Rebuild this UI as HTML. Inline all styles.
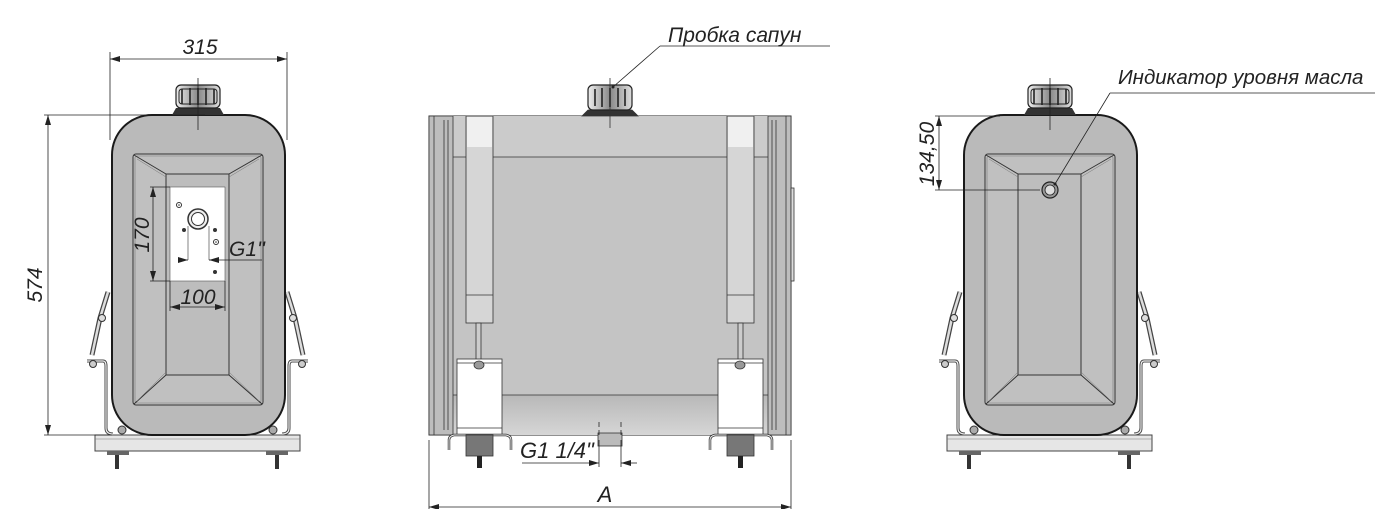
<!DOCTYPE html>
<html><head><meta charset="utf-8"><style>
html,body{margin:0;padding:0;background:#fff;}
svg{display:block;}
text{font-family:"Liberation Sans",sans-serif;font-style:italic;fill:#222;}
</style></head><body>
<svg width="1400" height="509" viewBox="0 0 1400 509" xmlns="http://www.w3.org/2000/svg">
<defs>
<marker id="ar" viewBox="0 0 10 6" refX="10" refY="3" markerWidth="10" markerHeight="6" orient="auto-start-reverse" markerUnits="userSpaceOnUse"><path d="M0,0 L10,3 L0,6 z" fill="#222"/></marker>
<linearGradient id="cap" x1="0" x2="1"><stop offset="0" stop-color="#eee"/><stop offset=".5" stop-color="#888"/><stop offset="1" stop-color="#ddd"/></linearGradient>
<linearGradient id="bot" x1="0" y1="0" x2="0" y2="1"><stop offset="0" stop-color="#b8b8b8"/><stop offset="1" stop-color="#d6d6d6"/></linearGradient>
<g id="end">
 <rect x="95" y="435" width="205" height="16" fill="#e6e6e6" stroke="#444" stroke-width="1"/>
 <line x1="95" y1="439" x2="300" y2="439" stroke="#777" stroke-width="0.6"/>
 <rect x="107" y="451" width="22" height="4" fill="#666"/><rect x="115" y="455" width="4" height="14" fill="#333"/>
 <rect x="266" y="451" width="22" height="4" fill="#666"/><rect x="275" y="455" width="4" height="14" fill="#333"/>
 <path d="M108,292 L100,318 L92,355" stroke="#444" stroke-width="5" fill="none"/>
 <path d="M108,292 L100,318 L92,355" stroke="#ddd" stroke-width="2.5" fill="none"/>
 <circle cx="102" cy="318" r="3.5" fill="#ddd" stroke="#333"/>
 <path d="M87,361 L103,361 Q106,361 106,366 L106,428 Q106,434 113,434" stroke="#444" stroke-width="3" fill="none"/>
 <path d="M87,361 L103,361 Q106,361 106,366 L106,428 Q106,434 113,434" stroke="#eee" stroke-width="1.2" fill="none"/>
 <circle cx="93" cy="364" r="3.5" fill="#ccc" stroke="#333"/>
 <path d="M287,292 L295,318 L303,355" stroke="#444" stroke-width="5" fill="none"/>
 <path d="M287,292 L295,318 L303,355" stroke="#ddd" stroke-width="2.5" fill="none"/>
 <circle cx="293" cy="318" r="3.5" fill="#ddd" stroke="#333"/>
 <path d="M308,361 L292,361 Q289,361 289,366 L289,428 Q289,434 282,434" stroke="#444" stroke-width="3" fill="none"/>
 <path d="M308,361 L292,361 Q289,361 289,366 L289,428 Q289,434 282,434" stroke="#eee" stroke-width="1.2" fill="none"/>
 <circle cx="302" cy="364" r="3.5" fill="#ccc" stroke="#333"/>
 <circle cx="122" cy="430" r="4" fill="#aaa" stroke="#333"/><circle cx="273" cy="430" r="4" fill="#aaa" stroke="#333"/>
 <rect x="112" y="115" width="173" height="320" rx="40" ry="40" fill="#bababa" stroke="#1a1a1a" stroke-width="2"/>
 <rect x="133" y="154" width="130" height="251" rx="3" fill="#c0c0c0" stroke="#333" stroke-width="1"/>
 <rect x="135" y="156" width="126" height="247" rx="2" fill="none" stroke="#777" stroke-width="0.6"/>
 <rect x="166" y="174" width="63" height="201" fill="#bdbdbd" stroke="#333" stroke-width="1"/>
 <path d="M134,155 L166,174 M262,155 L229,174 M134,404 L166,375 M262,404 L229,375" stroke="#333" stroke-width="1"/>
 <path d="M137,159 L166,177 M259,159 L229,177 M137,401 L166,372 M259,401 L229,372" stroke="#777" stroke-width="0.5"/>
 <path d="M172,115 L176,108 L220,108 L224,115 z" fill="#333"/>
 <rect x="176" y="85" width="44" height="23" rx="5" fill="url(#cap)" stroke="#222" stroke-width="1.2"/>
 <path d="M182,89 v15 M190,88 v17 M198,88 v17 M206,88 v17 M214,89 v15" stroke="#222" stroke-width="1.6"/>
 <rect x="179" y="89" width="38" height="15" rx="3" fill="none" stroke="#222" stroke-width="1"/>
 <line x1="198" y1="78" x2="198" y2="130" stroke="#222" stroke-width="0.8"/>
</g>
</defs>

<use href="#end"/>
<rect x="170" y="187" width="55" height="94" fill="#fff" stroke="#555" stroke-width="0.6"/>
<circle cx="198" cy="219" r="10" fill="#eee" stroke="#333" stroke-width="1.5"/>
<circle cx="198" cy="219" r="6.5" fill="#fff" stroke="#333" stroke-width="1"/>
<circle cx="179" cy="205" r="2.5" fill="none" stroke="#333"/><circle cx="179" cy="205" r="0.8" fill="#333"/>
<circle cx="184" cy="230" r="2" fill="#333"/><circle cx="215" cy="230" r="2" fill="#333"/>
<circle cx="216" cy="242" r="2.5" fill="none" stroke="#333"/><circle cx="216" cy="242" r="0.8" fill="#333"/>
<circle cx="215" cy="272" r="2" fill="#333"/>
<path d="M188,226 v34 M209,226 v34" stroke="#333" stroke-width="0.6"/>
<g stroke="#222" stroke-width="0.8" fill="none">
 <line x1="110" y1="52" x2="110" y2="140"/><line x1="287" y1="52" x2="287" y2="140"/>
 <line x1="110" y1="59" x2="287" y2="59" marker-start="url(#ar)" marker-end="url(#ar)"/>
 <line x1="44" y1="115" x2="205" y2="115"/><line x1="44" y1="435" x2="112" y2="435"/>
 <line x1="48" y1="115" x2="48" y2="435" marker-start="url(#ar)" marker-end="url(#ar)"/>
 <line x1="150" y1="187" x2="170" y2="187"/><line x1="150" y1="281" x2="170" y2="281"/>
 <line x1="153" y1="187" x2="153" y2="281" marker-start="url(#ar)" marker-end="url(#ar)"/>
 <line x1="170" y1="281" x2="170" y2="311"/><line x1="225" y1="281" x2="225" y2="311"/>
 <line x1="170" y1="307" x2="225" y2="307" marker-start="url(#ar)" marker-end="url(#ar)"/>
 <line x1="178" y1="260" x2="188" y2="260" marker-end="url(#ar)"/>
 <line x1="219" y1="260" x2="209" y2="260" marker-end="url(#ar)"/>
 <line x1="209" y1="260" x2="262" y2="260"/>
</g>
<text x="200" y="54" font-size="21" text-anchor="middle">315</text>
<text transform="translate(42,285) rotate(-90)" font-size="21" text-anchor="middle">574</text>
<text transform="translate(149,235) rotate(-90)" font-size="21" text-anchor="middle">170</text>
<text x="198" y="304" font-size="21" text-anchor="middle">100</text>
<text x="229" y="256" font-size="21">G1''</text>

<g stroke="#333" stroke-width="0.8">
 <rect x="429" y="116" width="362" height="319" fill="#c4c4c4" stroke="#222" stroke-width="1"/>
 <rect x="453" y="116" width="315" height="41" fill="#cbcbcb" stroke="none"/>
 <rect x="453" y="395" width="315" height="40" fill="url(#bot)" stroke="none"/>
 <line x1="429" y1="157" x2="791" y2="157"/><line x1="453" y1="395" x2="768" y2="395"/>
 <rect x="429" y="116" width="24" height="319" fill="#bdbdbd"/>
 <path d="M434,116 v319 M444,120 v310 M448,120 v310" fill="none"/>
 <rect x="768" y="116" width="23" height="319" fill="#bdbdbd"/>
 <path d="M772,120 v310 M776,120 v310 M786,116 v319" fill="none"/>
 <rect x="791" y="188" width="3" height="93" fill="#ddd"/>
 <rect x="466" y="116" width="27" height="207" fill="#d6d6d6"/>
 <rect x="467" y="117" width="25" height="30" fill="#f0f0f0" stroke="none"/>
 <line x1="466" y1="295" x2="493" y2="295"/>
 <rect x="727" y="116" width="27" height="207" fill="#d6d6d6"/>
 <rect x="728" y="117" width="25" height="30" fill="#f0f0f0" stroke="none"/>
 <line x1="727" y1="295" x2="754" y2="295"/>
 <rect x="476" y="323" width="5" height="37" fill="#ccc"/>
 <rect x="738" y="323" width="5" height="37" fill="#ccc"/>
 <rect x="457" y="359" width="45" height="76" fill="#fff"/>
 <line x1="457" y1="363" x2="502" y2="363"/><line x1="457" y1="428" x2="502" y2="428"/>
 <rect x="718" y="359" width="45" height="76" fill="#fff"/>
 <line x1="718" y1="363" x2="763" y2="363"/><line x1="718" y1="428" x2="763" y2="428"/>
 <ellipse cx="479" cy="365" rx="5" ry="4" fill="#999"/>
 <ellipse cx="740" cy="365" rx="5" ry="4" fill="#999"/>
 <path d="M449,450 v-10 q0,-4 5,-5 h52 q5,1 5,5 v10" fill="none" stroke-width="2.5"/>
 <path d="M449,450 v-10 q0,-4 5,-5 h52 q5,1 5,5 v10" fill="none" stroke="#eee" stroke-width="1"/>
 <path d="M710,450 v-10 q0,-4 5,-5 h52 q5,1 5,5 v10" fill="none" stroke-width="2.5"/>
 <path d="M710,450 v-10 q0,-4 5,-5 h52 q5,1 5,5 v10" fill="none" stroke="#eee" stroke-width="1"/>
 <rect x="466" y="435" width="27" height="21" fill="#777"/>
 <rect x="727" y="435" width="27" height="21" fill="#777"/>
 <rect x="477" y="456" width="5" height="12" fill="#222" stroke="none"/>
 <rect x="738" y="456" width="5" height="12" fill="#222" stroke="none"/>
 <rect x="598" y="433" width="24" height="13" fill="#bbb"/>
 <path d="M582,116 L588,110 L632,110 L638,116 z" fill="#333"/>
 <rect x="588" y="85" width="44" height="25" rx="5" fill="url(#cap)" stroke="#222" stroke-width="1.2"/>
 <path d="M595,89 v17 M602,88 v19 M610,88 v19 M618,88 v19 M625,89 v17" stroke="#222" stroke-width="1.6"/>
 <line x1="610" y1="78" x2="610" y2="128" stroke-width="0.8"/>
</g>
<g stroke="#222" stroke-width="0.8" fill="none">
 <path d="M599,422 v5 M599,430 v5 M621,422 v5 M621,430 v5 M599,440 v27 M621,440 v27"/>
 <line x1="522" y1="463" x2="599" y2="463" marker-end="url(#ar)"/>
 <line x1="637" y1="463" x2="621" y2="463" marker-end="url(#ar)"/>
 <line x1="429" y1="440" x2="429" y2="509"/><line x1="791" y1="440" x2="791" y2="509"/>
 <line x1="429" y1="507" x2="791" y2="507" marker-start="url(#ar)" marker-end="url(#ar)"/>
 <line x1="660" y1="46" x2="830" y2="46"/>
 <line x1="660" y1="46" x2="613" y2="87"/>
</g>
<circle cx="613" cy="87" r="1.5" fill="#222"/>
<text x="520" y="458" font-size="22">G1 1/4"</text>
<text x="605" y="502" font-size="22" text-anchor="middle">A</text>
<text x="668" y="42" font-size="21">Пробка сапун</text>

<use href="#end" transform="translate(852,0)"/>
<circle cx="1050" cy="190" r="8" fill="#999" stroke="#222" stroke-width="1.2"/>
<circle cx="1050" cy="190" r="5" fill="#ddd" stroke="#222" stroke-width="0.8"/>
<g stroke="#222" stroke-width="0.8" fill="none">
 <line x1="935" y1="116" x2="1000" y2="116"/><line x1="935" y1="190" x2="1040" y2="190"/>
 <line x1="939" y1="116" x2="939" y2="190" marker-start="url(#ar)" marker-end="url(#ar)"/>
 <line x1="1110" y1="93" x2="1375" y2="93"/>
 <line x1="1110" y1="93" x2="1055" y2="184"/>
</g>
<circle cx="1055" cy="184" r="1.5" fill="#222"/>
<text transform="translate(934,154) rotate(-90)" font-size="21" text-anchor="middle">134,50</text>
<text x="1118" y="84" font-size="20.5">Индикатор уровня масла</text>
</svg>
</body></html>
